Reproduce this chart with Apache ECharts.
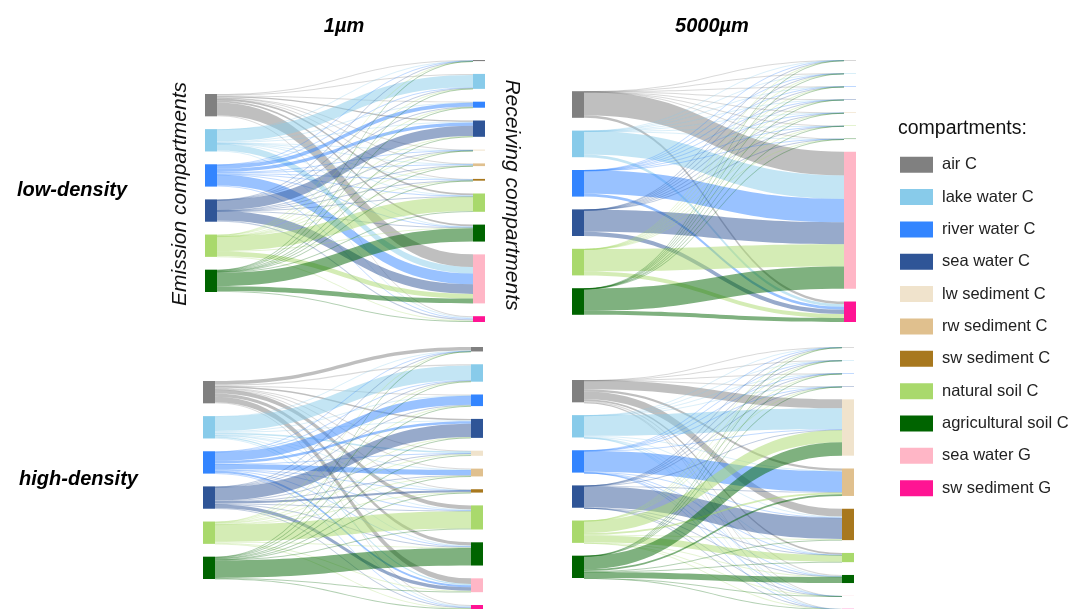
<!DOCTYPE html>
<html><head><meta charset="utf-8">
<script src="https://cdn.jsdelivr.net/npm/echarts@6/dist/echarts.min.js"></script>
<style>html,body{margin:0;padding:0;background:#fff}#c{width:1070px;height:609px}</style>
</head><body><div id="c"></div>
<script>
// ---- categories ----
const compartments = ['air C','lake water C','river water C','sea water C','lw sediment C','rw sediment C','sw sediment C','natural soil C','agricultural soil C','sea water G','sw sediment G'];
const sources = ['air C','lake water C','river water C','sea water C','natural soil C','agricultural soil C'];
const colTitles = ['1µm','5000µm'];
const rowTitles = ['low-density','high-density'];
const legendTitle = 'compartments:';

// ---- flows: rows = emission compartments, columns = receiving compartments (% of emission) ----
const flows_1um_low = [
  [2,   5,  3,  6,  1,   3, 2,   8,  8, 57,   5],
  [0.5,55,  2,  3,  1,   1, 0.5, 2,  2, 29,   4],
  [1,   2, 17, 15,  1,   4, 3,   2,  2, 48,   5],
  [0.5, 1,  1, 45,  0.5, 1, 1,   1,  1, 43,   5],
  [0.5, 2,  2,  2,  0.5, 1, 0.5,65,  3, 20.5, 3],
  [0.5, 2,  2,  2,  0.5, 2, 1,   4, 60, 22,   4]
];
const flows_5000um_low = [
  [0.2,0.2,0.2,0.2,null,0.2,null,0.2,0.2,88.6,10],
  [0.2,0.2,0.2,0.2,null,0.2,null,0.2,0.2,88.6,10],
  [0.2,0.2,0.2,0.2,null,0.2,null,0.2,0.2,87.6,11],
  [0.2,0.2,0.2,0.2,null,0.2,null,0.2,0.2,82.6,16],
  [0.2,0.2,0.2,0.2,null,0.2,null,0.2,0.2,83.6,15],
  [0.2,0.2,0.2,0.2,null,0.2,null,0.2,0.2,83.6,15]
];
const flows_1um_high = [
  [16,  5,  3,  6,  3,  3, 2,   18, 14, 25, 5],
  [1,  66,  3,  4,  7,  3, 1,    3,  3,  6, 3],
  [1,   2, 40, 12,  2, 23, 2,    3,  3,  9, 3],
  [1,   1,  2, 59,  3,  2, 9,    2,  2, 16, 3],
  [0.5, 2,  2,  2,  4,  2, 0.5, 78,  4,  3, 2],
  [0.5, 2,  2,  2,  4,  2, 0.5,  4, 78,  3, 2]
];
const flows_5000um_high = [
  [0.3,0.3,0.3,0.3,40.2,10, 35,   8,   5,   0.3,0.3],
  [0.2,0.2,0.2,0.2,92,   3,  3,   0.5, 0.5, 0.1,0.1],
  [0.2,0.2,0.2,0.2, 3,  92,  3,   0.5, 0.5, 0.1,0.1],
  [0.2,0.2,0.2,0.2, 2,   2, 94.5, 0.3, 0.2, 0.1,0.1],
  [0.2,0.2,0.2,0.2,55,   8,  3,  30,   3,   0.1,0.1],
  [0.2,0.2,0.2,0.2,60,   8,  2,   2,  27,   0.1,0.1]
];

// ---- styles ----
const palette = ['#808080','#88CBEA','#3385FF','#2F5597','#F0E3CC','#E0C08E','#A8781E','#A9D96C','#006400','#FFB6C6','#FF1493'];
const FONT = '"Liberation Sans", Arial, sans-serif';

const panels = [
  {flows: flows_1um_low,     left: 205, top: 60,  width: 280, height: 262, shift: 2},
  {flows: flows_5000um_low,  left: 572, top: 60,  width: 284, height: 262, shift: 12},
  {flows: flows_1um_high,    left: 203, top: 347, width: 280, height: 262, shift: 2},
  {flows: flows_5000um_high, left: 572, top: 347, width: 282, height: 262, shift: 1}
];

function buildSeries(p) {
  const gap = 12.8;
  const nodes = [], links = [];
  const used = compartments.map((c, j) => p.flows.some(r => r[j] != null));
  const nRight = used.filter(Boolean).length;
  const srcTotals = p.flows.map(r => r.reduce((a, b) => a + (b || 0), 0));
  const total = srcTotals.reduce((a, b) => a + b, 0);
  const ky = Math.min((p.height - (nRight - 1) * gap) / total, (p.height - (sources.length - 1) * gap) / total);
  const L = srcTotals.reduce((a, v) => a + v * ky, 0) + (sources.length - 1) * gap;
  let y = (p.height - L) / 2 + p.shift;
  sources.forEach((s, i) => {
    nodes.push({name: 'E:' + s, itemStyle: {color: palette[compartments.indexOf(s)]}, localY: y / p.height});
    y += srcTotals[i] * ky + gap;
  });
  compartments.forEach((c, j) => { if (used[j]) nodes.push({name: 'R:' + c, itemStyle: {color: palette[j]}}); });
  p.flows.forEach((r, i) => r.forEach((v, j) => {
    if (v != null) {
      const link = {source: 'E:' + sources[i], target: 'R:' + compartments[j], value: v};
      if (v * ky < 1.2) link.lineStyle = {opacity: 0.3};
      links.push(link);
    }
  }));
  return {
    type: 'sankey', left: p.left, top: p.top, width: p.width, height: p.height,
    nodeWidth: 12, nodeGap: gap, layoutIterations: 0, nodeAlign: 'left',
    draggable: false, silent: true, animation: false,
    label: {show: false}, emphasis: {disabled: true},
    itemStyle: {borderWidth: 0},
    lineStyle: {color: 'source', opacity: 0.5, curveness: 0.5},
    data: nodes, links: links
  };
}

const graphics = [];
const titleFont = 'italic bold 20px ' + FONT;
[344, 712].forEach((x, i) => graphics.push({type: 'text', x: x, y: 26, style: {text: colTitles[i], font: titleFont, fill: '#000', textAlign: 'center', textVerticalAlign: 'middle'}}));
[[72, 190], [78.5, 479]].forEach((pt, i) => graphics.push({type: 'text', x: pt[0], y: pt[1], style: {text: rowTitles[i], font: titleFont, fill: '#000', textAlign: 'center', textVerticalAlign: 'middle'}}));
graphics.push({type: 'text', x: 180, y: 194, rotation: Math.PI / 2, style: {text: 'Emission compartments', font: 'italic 21px ' + FONT, fill: '#111', textAlign: 'center', textVerticalAlign: 'middle'}});
graphics.push({type: 'text', x: 512, y: 195, rotation: -Math.PI / 2, style: {text: 'Receiving compartments', font: 'italic 21px ' + FONT, fill: '#111', textAlign: 'center', textVerticalAlign: 'middle'}});
graphics.push({type: 'text', x: 898, y: 129, style: {text: legendTitle, font: '19.5px ' + FONT, fill: '#111', textAlign: 'left', textVerticalAlign: 'middle'}});
compartments.forEach((c, i) => {
  const yc = 164.7 + i * 32.35;
  graphics.push({type: 'rect', shape: {x: 900, y: yc - 8, width: 33, height: 16}, style: {fill: palette[i]}});
  graphics.push({type: 'text', x: 942, y: yc, style: {text: c, font: '16.5px ' + FONT, fill: '#222', textAlign: 'left', textVerticalAlign: 'middle'}});
});

const chart = echarts.init(document.getElementById('c'), null, {renderer: 'canvas'});
chart.setOption({
  backgroundColor: '#fff',
  animation: false,
  series: panels.map(buildSeries),
  graphic: graphics
});
</script></body></html>
